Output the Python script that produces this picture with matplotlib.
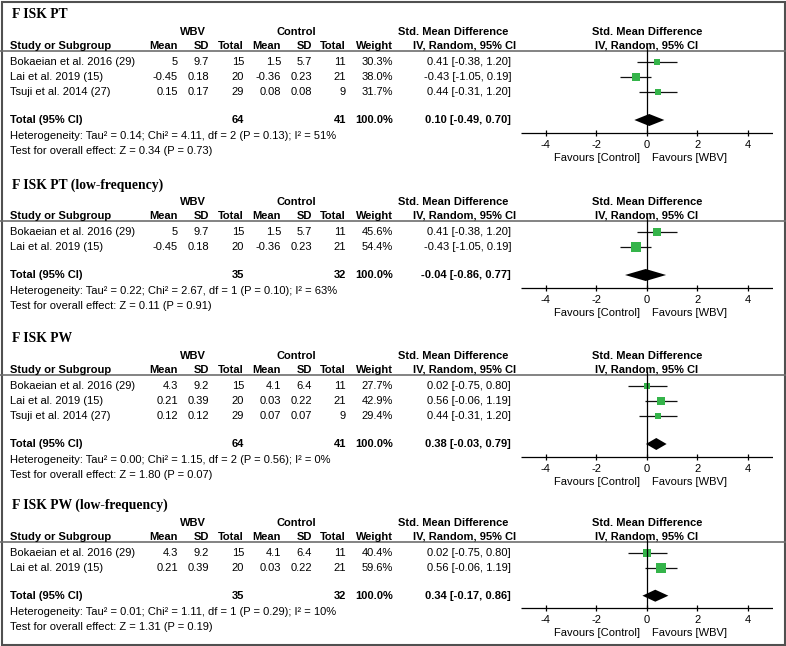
import matplotlib
matplotlib.use("Agg")
import matplotlib.pyplot as plt
from matplotlib.patches import Rectangle

# forest plot data, one entry per panel
titles = ["F ISK PT", "F ISK PT (low-frequency)", "F ISK PW", "F ISK PW (low-frequency)"]
studies = [
    ["Bokaeian et al. 2016 (29)", "Lai et al. 2019 (15)", "Tsuji et al. 2014 (27)"],
    ["Bokaeian et al. 2016 (29)", "Lai et al. 2019 (15)"],
    ["Bokaeian et al. 2016 (29)", "Lai et al. 2019 (15)", "Tsuji et al. 2014 (27)"],
    ["Bokaeian et al. 2016 (29)", "Lai et al. 2019 (15)"],
]
wbv_mean = [[5, -0.45, 0.15], [5, -0.45], [4.3, 0.21, 0.12], [4.3, 0.21]]
wbv_sd = [[9.7, 0.18, 0.17], [9.7, 0.18], [9.2, 0.39, 0.12], [9.2, 0.39]]
wbv_n = [[15, 20, 29], [15, 20], [15, 20, 29], [15, 20]]
ctl_mean = [[1.5, -0.36, 0.08], [1.5, -0.36], [4.1, 0.03, 0.07], [4.1, 0.03]]
ctl_sd = [[5.7, 0.23, 0.08], [5.7, 0.23], [6.4, 0.22, 0.07], [6.4, 0.22]]
ctl_n = [[11, 21, 9], [11, 21], [11, 21, 9], [11, 21]]
weights = [[30.3, 38.0, 31.7], [45.6, 54.4], [27.7, 42.9, 29.4], [40.4, 59.6]]
smd = [[0.41, -0.43, 0.44], [0.41, -0.43], [0.02, 0.56, 0.44], [0.02, 0.56]]
ci_lo = [[-0.38, -1.05, -0.31], [-0.38, -1.05], [-0.75, -0.06, -0.31], [-0.75, -0.06]]
ci_hi = [[1.20, 0.19, 1.20], [1.20, 0.19], [0.80, 1.19, 1.20], [0.80, 1.19]]

tot_wbv = [64, 35, 64, 35]
tot_ctl = [41, 32, 41, 32]
tot_smd = [0.10, -0.04, 0.38, 0.34]
tot_lo = [-0.49, -0.86, -0.03, -0.17]
tot_hi = [0.70, 0.77, 0.79, 0.86]
tau2 = [0.14, 0.22, 0.00, 0.01]
chi2 = [4.11, 2.67, 1.15, 1.11]
dfs = [2, 1, 2, 1]
het_p = [0.13, 0.10, 0.56, 0.29]
i2 = [51, 63, 0, 10]
z_val = [0.34, 0.11, 1.80, 1.31]
z_p = [0.73, 0.91, 0.07, 0.19]
axis_ticks = [-4, -2, 0, 2, 4]

# header line y (pixels) for each panel
header_y = [51, 221, 375, 541.7]
row_step = 15

W, H = 786, 646
plt.rcParams['font.family'] = ['Liberation Sans', 'DejaVu Sans']
fig = plt.figure(figsize=(W / 100, H / 100), dpi=100)
bg = fig.add_axes([0, 0, 1, 1])
bg.set_xlim(0, W)
bg.set_ylim(H, 0)
bg.axis('off')

# forest area: x in SMD units (-5..5), y in pixels
fx0, fx1 = 520.7, 772.7
fax = fig.add_axes([fx0 / W, 0, (fx1 - fx0) / W, 1])
fax.set_xlim(-5, 5)
fax.set_ylim(H, 0)
fax.axis('off')

bg.add_patch(Rectangle((1.5, 1.5), W - 3, H - 3, fill=False, edgecolor='#505050', lw=1.5))

fs = 8
green = '#35b44a'
cols_r = [178, 209, 244, 281, 312, 346, 393]


def fmt(v):
    return f"{v:g}"


for p in range(4):
    L = header_y[p]
    bg.text(12, L - 36, titles[p], family='Liberation Serif', fontweight='bold',
            fontsize=9.8, va='center', ha='left')
    bg.text(193, L - 19, "WBV", fontsize=fs, fontweight='bold', ha='center', va='center')
    bg.text(296, L - 19, "Control", fontsize=fs, fontweight='bold', ha='center', va='center')
    bg.text(453, L - 19, "Std. Mean Difference", fontsize=fs, fontweight='bold', ha='center', va='center')
    fax.text(0, L - 19, "Std. Mean Difference", fontsize=fs, fontweight='bold', ha='center', va='center')

    bg.text(10, L - 5, "Study or Subgroup", fontsize=fs, fontweight='bold', ha='left', va='center')
    for x, lab in zip(cols_r, ["Mean", "SD", "Total", "Mean", "SD", "Total", "Weight"]):
        bg.text(x, L - 5, lab, fontsize=fs, fontweight='bold', ha='right', va='center')
    bg.text(516, L - 5, "IV, Random, 95% CI", fontsize=fs, fontweight='bold', ha='right', va='center')
    fax.text(0, L - 5, "IV, Random, 95% CI", fontsize=fs, fontweight='bold', ha='center', va='center')
    bg.hlines(L, 0, W, color='#6e6e6e', lw=1.2)

    n = len(studies[p])
    for i in range(n):
        y = L + 11 + i * row_step
        vals = [fmt(wbv_mean[p][i]), fmt(wbv_sd[p][i]), str(wbv_n[p][i]),
                fmt(ctl_mean[p][i]), fmt(ctl_sd[p][i]), str(ctl_n[p][i]),
                f"{weights[p][i]:.1f}%"]
        bg.text(10, y, studies[p][i], fontsize=fs, ha='left', va='center')
        for x, v in zip(cols_r, vals):
            bg.text(x, y, v, fontsize=fs, ha='right', va='center')
        bg.text(511, y, f"{smd[p][i]:.2f} [{ci_lo[p][i]:.2f}, {ci_hi[p][i]:.2f}]",
                fontsize=fs, ha='right', va='center')
        fax.hlines(y, ci_lo[p][i], ci_hi[p][i], color='#111111', lw=0.9)
        # square size grows with study weight
        side = 1 + 0.16 * weights[p][i]
        fax.plot(smd[p][i], y, 's', ms=side * 0.72, color=green, mew=0)

    ty = L + 11 + (n - 1) * row_step + 28
    bg.text(10, ty, "Total (95% CI)", fontsize=fs, fontweight='bold', ha='left', va='center')
    bg.text(cols_r[2], ty, str(tot_wbv[p]), fontsize=fs, fontweight='bold', ha='right', va='center')
    bg.text(cols_r[5], ty, str(tot_ctl[p]), fontsize=fs, fontweight='bold', ha='right', va='center')
    bg.text(cols_r[6], ty, "100.0%", fontsize=fs, fontweight='bold', ha='right', va='center')
    bg.text(511, ty, f"{tot_smd[p]:.2f} [{tot_lo[p]:.2f}, {tot_hi[p]:.2f}]",
            fontsize=fs, fontweight='bold', ha='right', va='center')
    fax.fill([tot_lo[p], tot_smd[p], tot_hi[p], tot_smd[p]], [ty, ty - 6, ty, ty + 6],
             color='black', lw=0)

    bg.text(10, ty + 16, f"Heterogeneity: Tau² = {tau2[p]:.2f}; Chi² = {chi2[p]:.2f}, "
            f"df = {dfs[p]} (P = {het_p[p]:.2f}); I² = {i2[p]}%", fontsize=fs, ha='left', va='center')
    bg.text(10, ty + 31, f"Test for overall effect: Z = {z_val[p]:.2f} (P = {z_p[p]:.2f})",
            fontsize=fs, ha='left', va='center')

    ay = ty + 12.7
    fax.vlines(0, L - 4, ay, color='black', lw=0.9)
    fax.hlines(ay, -5, 5, color='black', lw=0.9)
    fax.vlines(axis_ticks, ay - 3, ay + 3, color='black', lw=0.9)
    for t in axis_ticks:
        fax.text(t, ay + 12, str(t), fontsize=fs, ha='center', va='center')
    fax.text(-0.25, ay + 25, "Favours [Control]", fontsize=fs, ha='right', va='center')
    fax.text(0.2, ay + 25, "Favours [WBV]", fontsize=fs, ha='left', va='center')

fig.savefig("out.png", dpi=100)
